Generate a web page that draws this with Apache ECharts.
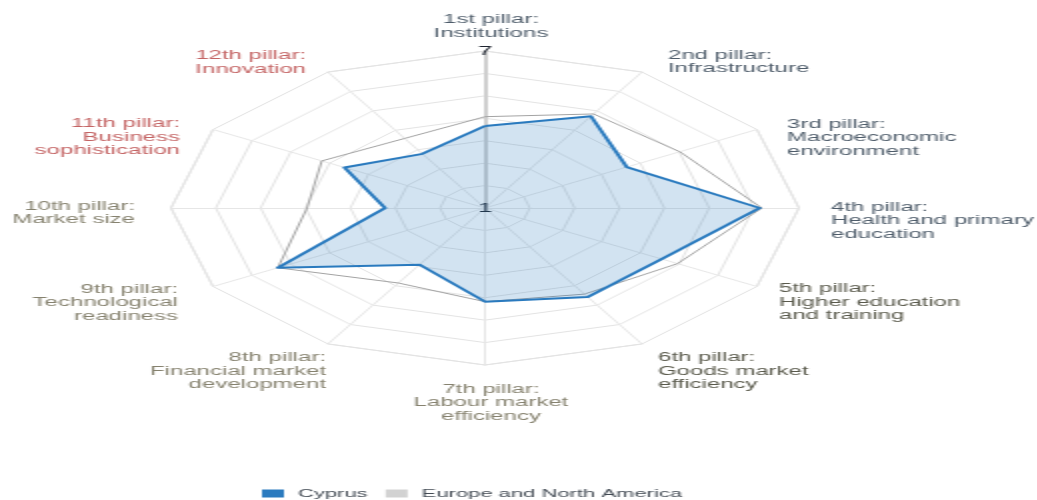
<!DOCTYPE html>
<html>
<head>
<meta charset="utf-8">
<script src="https://cdn.jsdelivr.net/npm/echarts@6/dist/echarts.min.js"></script>
<style>
  html, body { margin: 0; padding: 0; background: #fff; overflow: hidden; }
  /* the reference is a 518px-wide chart stretched to double width */
  #radarChart { width: 518.5px; height: 500px; transform: scaleX(2); transform-origin: 0 0; }
</style>
</head>
<body>
<div id="radarChart"></div>
<script>
const pillarNames = [
  '1st pillar:\nInstitutions',
  '2nd pillar:\nInfrastructure',
  '3rd pillar:\nMacroeconomic\nenvironment',
  '4th pillar:\nHealth and primary\neducation',
  '5th pillar:\nHigher education\nand training',
  '6th pillar:\nGoods market\nefficiency',
  '7th pillar:\nLabour market\nefficiency',
  '8th pillar:\nFinancial market\ndevelopment',
  '9th pillar:\nTechnological\nreadiness',
  '10th pillar:\nMarket size',
  '11th pillar:\nBusiness\nsophistication',
  '12th pillar:\nInnovation'
]
const cyprusScores = [4.13, 5.05, 4.13, 6.25, 4.9, 4.93, 4.58, 3.5, 5.57, 2.91, 4.1, 3.39]
const regionScores = [4.49, 5.15, 5.3, 6.29, 5.25, 4.8, 4.58, 4.31, 5.57, 4.4, 4.6, 4.07]
const scoreTicks = [1, 7]
const seriesNames = ['Cyprus', 'Europe and North America']

// label colours by pillar group
const pillarColors = [
  '#4f5d6b', '#4f5d6b', '#4f5d6b', '#4f5d6b',
  '#5a5a4c', '#5a5a4c',
  '#86826f', '#86826f', '#86826f', '#86826f',
  '#c46464', '#c46464'
]
// [x shift of text edge, y shift of text block centre] from each spoke end
const nameOffsets = [
  [3, -26], [13, -11.5], [15, 7], [16, 11.5],
  [11, 14.5], [8, 26], [3, 36.5], [-1, 26],
  [-17.5, 15], [-18, 3.5], [-16.5, 6.5], [-11, -11]
]

const chartDom = document.getElementById('radarChart')
const myChart = echarts.init(chartDom, null, { devicePixelRatio: 1 })

// echarts lays indicators out counter-clockwise, the reference goes clockwise
const order = pillarNames.map((_, i) => (i === 0 ? 0 : pillarNames.length - i))

const indicators = order.map((i) => {
  const [dx, dy] = nameOffsets[i]
  const align = i === 0 || i === 6 ? 'center' : i < 6 ? 'left' : 'right'
  let padLeft = 0
  let padRight = 0
  if (align === 'left') padLeft = dx
  else if (align === 'right') padRight = -dx
  else if (dx > 0) padLeft = 2 * dx
  else padRight = -2 * dx
  // vertical shift: an empty spacer line above or below the text block
  const shift = dy + 1.5
  const sp = Math.max(1, Math.abs(2 * shift))
  const ind = {
    name: shift > 0 ? '{sp| }\n' + pillarNames[i] : pillarNames[i] + '\n{sp| }',
    min: scoreTicks[0],
    max: scoreTicks[1],
    color: pillarColors[i],
    nameMoveOverlap: false,
    nameTextStyle: {
      align: align,
      verticalAlign: 'middle',
      padding: [0, padRight, 0, padLeft],
      rich: { sp: { fontSize: 1, height: sp, lineHeight: sp } }
    }
  }
  if (i === 0) {
    ind.axisLine = { lineStyle: { color: '#cfcfcf', width: 2 } }
    ind.axisLabel = {
      show: true,
      showMinLabel: true,
      showMaxLabel: true,
      margin: 0,
      align: 'center',
      verticalAlign: 'middle',
      color: '#1f2530',
      fontSize: 13,
      fontFamily: 'Liberation Sans, Arial, sans-serif',
      formatter: (v) =>
        scoreTicks.some((t) => Math.abs(t - v) < 1e-6) ? String(Math.round(v)) : ''
    }
  }
  return ind
})

const option = {
  animation: false,
  legend: {
    data: [
      { name: seriesNames[0], itemStyle: { color: '#2b7bbf', borderWidth: 0 } },
      { name: seriesNames[1], itemStyle: { color: '#d2d2d2', borderWidth: 0 } }
    ],
    left: 126,
    top: 483,
    icon: 'rect',
    itemWidth: 11,
    itemHeight: 8,
    itemGap: 9,
    textStyle: {
      color: '#444c55',
      fontSize: 11,
      fontFamily: 'Liberation Sans, Arial, sans-serif',
      padding: [0, 0, 0, 2]
    }
  },
  radar: {
    center: [242.5, 208],
    radius: 157,
    startAngle: 90,
    shape: 'polygon',
    splitNumber: 7,
    nameGap: 0,
    indicator: indicators,
    axisName: {
      fontSize: 12,
      lineHeight: 13.5,
      fontFamily: 'Liberation Sans, Arial, sans-serif'
    },
    axisLine: { lineStyle: { color: '#e6e6e6', width: 1 } },
    splitLine: { lineStyle: { color: '#e3e3e3', width: 1 } },
    splitArea: { show: false },
    axisTick: { show: false },
    axisLabel: { show: false }
  },
  series: [
    {
      name: seriesNames[1],
      type: 'radar',
      symbol: 'none',
      z: 2,
      lineStyle: { color: '#a3a3a3', width: 1 },
      itemStyle: { color: '#d2d2d2' },
      data: [{ name: seriesNames[1], value: order.map((i) => regionScores[i]) }]
    },
    {
      name: seriesNames[0],
      type: 'radar',
      symbol: 'none',
      z: 3,
      lineStyle: { color: '#2b7bbf', width: 2 },
      itemStyle: { color: '#2b7bbf' },
      areaStyle: { color: '#2b7bbf', opacity: 0.21 },
      data: [{ name: seriesNames[0], value: order.map((i) => cyprusScores[i]) }]
    }
  ]
}

myChart.setOption(option)

window.addEventListener('resize', function () {
  myChart.resize()
})
</script>
</body>
</html>
